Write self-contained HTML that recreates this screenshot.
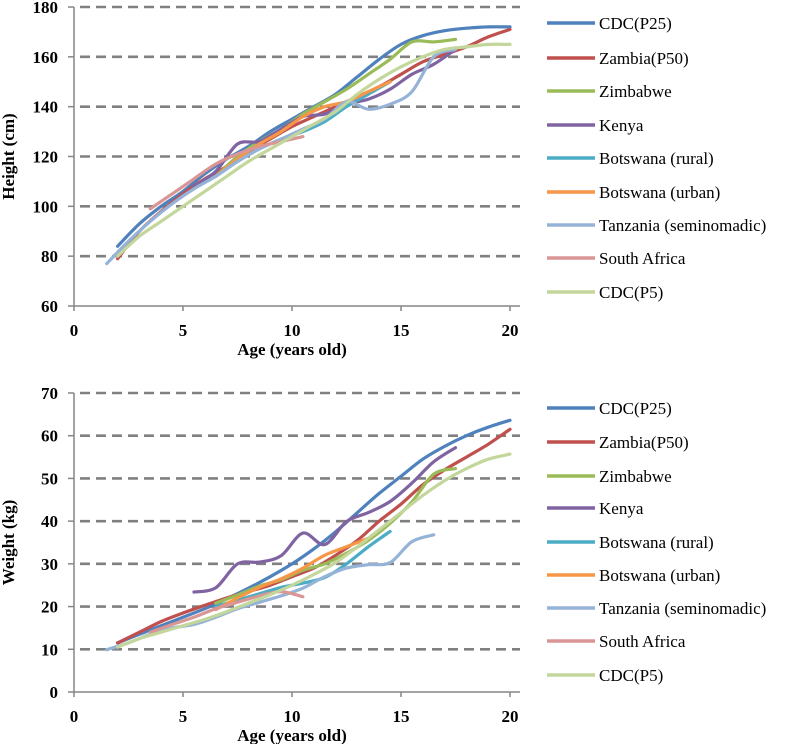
<!DOCTYPE html>
<html><head><meta charset="utf-8"><style>
html,body{margin:0;padding:0;background:#fff;}
svg{display:block;font-family:"Liberation Serif",serif;}
</style></head><body>
<svg id="chart" width="787" height="744" viewBox="0 0 787 744"></svg>
<script>
const seriesNames=["CDC(P25)","Zambia(P50)","Zimbabwe","Kenya","Botswana (rural)","Botswana (urban)","Tanzania (seminomadic)","South Africa","CDC(P5)"];
const seriesColors=["#4F81BD","#C0504D","#9BBB59","#8064A2","#4BACC6","#F79646","#95B3D7","#D99694","#C3D69B"];
const xTicks=[0,5,10,15,20];
const heightTicks=[60,80,100,120,140,160,180];
const weightTicks=[0,10,20,30,40,50,60,70];
const agesFull=[2,3,4,5,6,7,8,9,10,11,12,13,14,15,16,17,18,19,20];
const agesMid=[6.5,7.5,8.5,9.5,10.5,11.5,12.5,13.5,14.5];
const agesKenya=[5.5,6.5,7.5,8.5,9.5,10.5,11.5,12.5,13.5,14.5,15.5,16.5,17.5];
const agesZim=[6.5,7.5,8.5,9.5,10.5,11.5,12.5,13.5,14.5,15.5,16.5,17.5];
const agesTz=[1.5,2.5,3.5,4.5,5.5,6.5,7.5,8.5,9.5,10.5,11.5,12.5,13.5,14.5,15.5,16.5];
const agesSA=[3.5,4.5,5.5,6.5,7.5,8.5,9.5,10.5];
// Height (cm)
const hCdc25=[84,93,100,106,113,119,124,130,135,140,145,152,159,165,168.5,170.5,171.5,172,172];
const hZambia=[79,90,98,105,111,116,122,127,132,136,140,144,148,153,158,161,164,168,171];
const hZimbabwe=[112,120,126,131,137,142,147,153,159,166,166,167];
const hKenya=[108,114,125,126,131,136,137,141,143,147,153,157,163];
const hBotRural=[112,118,123,127,130,134,140,145,150];
const hBotUrban=[112,119,125,130,136,140,142,146,150];
const hTanzania=[77,86,94,101,107,112,118,123,127,131,135,142,139,141,146,160];
const hSouthAfrica=[99,105,111,117,121,124,126,128];
const hCdc5=[80,88,94,100,106,112,118,123,128,133,138,145,151,156,160,163,164,165,165];
// Weight (kg)
const wCdc25=[11.5,13.5,15.5,17.5,19.5,21.8,24.3,27,30,33.5,37.5,42,46.5,50.5,54.5,57.5,60,62,63.6];
const wZambia=[11.5,14,16.5,18.5,20.3,22,23.5,25,27,29,32,35.5,40,44,48.5,52,55,58,61.5];
const wZimbabwe=[20.8,22.7,24.8,26.3,28.5,30,32.5,35.5,39.5,44.5,51,52.3];
const wKenya=[23.4,24.4,30,30.4,31.9,37.2,34.5,39.9,42,44.6,48.9,53.9,57.2];
const wBotRural=[20,21.5,23,24.5,25.5,26.8,30,34,37.6];
const wBotUrban=[19.3,22,24.5,26.5,29,32,34,36];
const agesBotUrbanW=[6.5,7.5,8.5,9.5,10.5,11.5,12.5,13.5];
const wTanzania=[9.9,11.5,13.5,15,15.8,17.5,19.5,21,22.5,24.3,27,29,29.8,30.3,35.2,36.8];
const wSouthAfrica=[14,15.8,17.5,19.5,21,22.5,23.5,22.3];
const wCdc5=[10.5,12.5,14,15.5,17,18.8,20.8,22.8,25,27.5,30.3,34,38,42,46,49.5,52.3,54.5,55.7];

const NS="http://www.w3.org/2000/svg";
const svg=document.getElementById('chart');
function mk(tag,attrs,parent){const e=document.createElementNS(NS,tag);for(const k in attrs)e.setAttribute(k,attrs[k]);(parent||svg).appendChild(e);return e;}
function smoothPath(pts){
  let d='M'+pts[0][0].toFixed(1)+','+pts[0][1].toFixed(1);
  for(let i=0;i<pts.length-1;i++){
    const p0=pts[i-1]||pts[i],p1=pts[i],p2=pts[i+1],p3=pts[i+2]||p2;
    const t=0.16;
    const c1=[p1[0]+(p2[0]-p0[0])*t,p1[1]+(p2[1]-p0[1])*t];
    const c2=[p2[0]-(p3[0]-p1[0])*t,p2[1]-(p3[1]-p1[1])*t];
    d+=' C'+c1[0].toFixed(1)+','+c1[1].toFixed(1)+' '+c2[0].toFixed(1)+','+c2[1].toFixed(1)+' '+p2[0].toFixed(1)+','+p2[1].toFixed(1);
  }
  return d;
}

function drawChart(cfg){
  const g=mk('g',{});
  
  
  const x0=74,x1=510,axisEnd=520;
  const xs=v=>x0+(v-0)/20*(x1-x0);
  const ys=v=>cfg.yBottom-(v-cfg.yMin)/(cfg.yMax-cfg.yMin)*(cfg.yBottom-cfg.yTop);
  cfg.yTicks.forEach((t,i)=>{
    const y=ys(t);
    if(i>0){const gl=mk('line',{x1:80,x2:axisEnd,y1:y,y2:y,stroke:'#808080','stroke-width':2.6,'stroke-dasharray':'10,6'},g);
      
      }
    mk('line',{x1:68,x2:74,y1:y,y2:y,stroke:'#868686','stroke-width':1.5},g);
    const tx=mk('text',{x:58,y:y+6,'text-anchor':'end','font-size':17,'font-weight':'bold',fill:'#000'},g);
    tx.textContent=t;
    
    
  });
  mk('line',{x1:x0,x2:x0,y1:cfg.yTop,y2:cfg.yBottom,stroke:'#868686','stroke-width':1.5},g);
  mk('line',{x1:x0,x2:axisEnd,y1:cfg.yBottom,y2:cfg.yBottom,stroke:'#868686','stroke-width':1.5},g);
  xTicks.forEach(t=>{
    const x=xs(t);
    mk('line',{x1:x,x2:x,y1:cfg.yBottom,y2:cfg.yBottom+5,stroke:'#868686','stroke-width':1.5},g);
    const tx=mk('text',{x:x,y:cfg.yBottom+30,'text-anchor':'middle','font-size':17,'font-weight':'bold'},g);
    tx.textContent=t;
    
    
  });
  const xt=mk('text',{x:292,y:cfg.yBottom+49,'text-anchor':'middle','font-size':17,'font-weight':'bold'},g);
  xt.textContent='Age (years old)';
  
  
  const ty=(cfg.yTop+cfg.yBottom)/2;
  const yt=mk('text',{x:0,y:0,transform:`translate(14,${ty}) rotate(-90)`,'text-anchor':'middle','font-size':17,'font-weight':'bold'},g);
  yt.textContent=cfg.yTitle;
  
  
  cfg.series.forEach((s,i)=>{
    const pts=s.ages.map((a,j)=>[xs(a),ys(s.vals[j])]);
    const p=mk('path',{d:smoothPath(pts),fill:'none',stroke:seriesColors[i],'stroke-width':3.2,'stroke-linejoin':'round','stroke-linecap':'round'},g);
    
    
  });
  seriesNames.forEach((n,i)=>{
    const y=cfg.legendY[i];
    const lg=mk('g',{},g);
    
    
    mk('line',{x1:547,x2:595,y1:y,y2:y,stroke:seriesColors[i],'stroke-width':3.5},lg);
    const t=mk('text',{x:599,y:y+6,'font-size':17},lg);
    t.textContent=n;
  });
}
drawChart({name:'height-chart',yTitle:'Height (cm)',yMin:60,yMax:180,yTop:7,yBottom:306,yTicks:heightTicks,
  legendY:[23,58,91,125,158,192,225,258,292],
  series:[{ages:agesFull,vals:hCdc25},{ages:agesFull,vals:hZambia},{ages:agesZim,vals:hZimbabwe},{ages:agesKenya,vals:hKenya},
  {ages:agesMid,vals:hBotRural},{ages:agesMid,vals:hBotUrban},{ages:agesTz.concat([17.5]),vals:hTanzania.concat([163])},{ages:agesSA,vals:hSouthAfrica},{ages:agesFull,vals:hCdc5}]});
drawChart({name:'weight-chart',yTitle:'Weight (kg)',yMin:0,yMax:70,yTop:393,yBottom:692,yTicks:weightTicks,
  legendY:[408,442,476,508,542,575,608,641,675],
  series:[{ages:agesFull,vals:wCdc25},{ages:agesFull,vals:wZambia},{ages:agesZim,vals:wZimbabwe},{ages:agesKenya,vals:wKenya},
  {ages:agesMid,vals:wBotRural},{ages:agesBotUrbanW,vals:wBotUrban},{ages:agesTz,vals:wTanzania},{ages:agesSA,vals:wSouthAfrica},{ages:agesFull,vals:wCdc5}]});
</script>
</body></html>
